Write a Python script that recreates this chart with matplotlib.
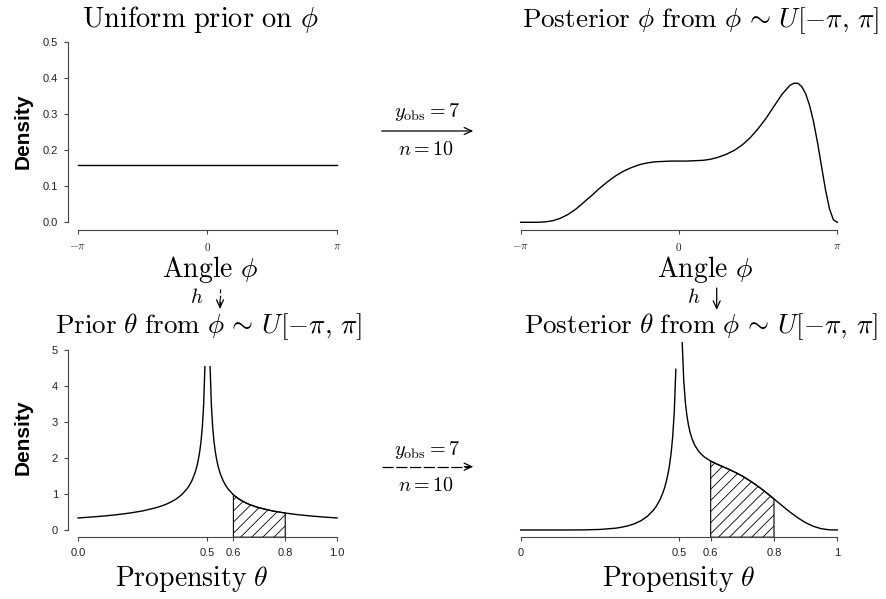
import numpy as np
import matplotlib.pyplot as plt
from matplotlib.lines import Line2D
from matplotlib.patches import FancyArrowPatch

plt.rcParams['mathtext.fontset'] = 'cm'
plt.rcParams['font.family'] = ['Liberation Sans', 'DejaVu Sans']
plt.rcParams['hatch.linewidth'] = 0.6

# ---- data ----
# uniform prior on phi
phi_uniform = [-3.142, 3.142]
dens_uniform = [0.159, 0.159]

# posterior on phi
phi_post = [-3.142, -2.985, -2.827, -2.670, -2.513, -2.356, -2.199, -2.042, -1.885, -1.728,
            -1.571, -1.414, -1.257, -1.100, -0.942, -0.785, -0.628, -0.471, -0.314, -0.157,
            0.000, 0.157, 0.314, 0.471, 0.628, 0.785, 0.942, 1.100, 1.257, 1.414,
            1.571, 1.728, 1.885, 2.042, 2.199, 2.278, 2.356, 2.435, 2.513, 2.592,
            2.670, 2.749, 2.827, 2.906, 2.985, 3.063, 3.142]
dens_phi_post = [0.000, 0.000, 0.000, 0.001, 0.004, 0.011, 0.022, 0.037, 0.056, 0.075,
                 0.095, 0.113, 0.129, 0.142, 0.152, 0.160, 0.165, 0.168, 0.169, 0.170,
                 0.170, 0.170, 0.171, 0.172, 0.175, 0.181, 0.189, 0.200, 0.215, 0.235,
                 0.260, 0.289, 0.322, 0.355, 0.380, 0.386, 0.386, 0.377, 0.357, 0.324,
                 0.279, 0.221, 0.156, 0.091, 0.038, 0.007, 0.000]

# prior on theta (undefined at 0.5)
theta_prior = [0.0, 0.05, 0.10, 0.15, 0.20, 0.25, 0.30, 0.32, 0.34, 0.36, 0.38, 0.40,
               0.42, 0.43, 0.44, 0.45, 0.455, 0.46, 0.465, 0.47, 0.475, 0.48, 0.485, 0.49,
               0.50,
               0.51, 0.515, 0.52, 0.525, 0.53, 0.535, 0.54, 0.545, 0.55, 0.56, 0.57, 0.58,
               0.60, 0.62, 0.64, 0.66, 0.68, 0.70, 0.75, 0.80, 0.85, 0.90, 0.95, 1.0]
dens_theta_prior = [0.333, 0.358, 0.387, 0.423, 0.469, 0.529, 0.614, 0.659, 0.712, 0.779, 0.863, 0.975,
                    1.131, 1.236, 1.370, 1.547, 1.660, 1.795, 1.963, 2.175, 2.456, 2.850, 3.452, 4.524,
                    np.nan,
                    4.524, 3.452, 2.850, 2.456, 2.175, 1.963, 1.795, 1.660, 1.547, 1.370, 1.236, 1.131,
                    0.975, 0.863, 0.779, 0.712, 0.659, 0.614, 0.529, 0.469, 0.423, 0.387, 0.358, 0.333]

# posterior on theta
theta_post = [0.0, 0.05, 0.10, 0.15, 0.20, 0.25, 0.30, 0.32, 0.34, 0.36, 0.38, 0.40,
              0.42, 0.43, 0.44, 0.45, 0.455, 0.46, 0.465, 0.47, 0.475, 0.48, 0.485, 0.49,
              0.50,
              0.51, 0.515, 0.52, 0.525, 0.53, 0.535, 0.54, 0.545, 0.55, 0.56, 0.57, 0.58,
              0.60, 0.62, 0.64, 0.66, 0.68, 0.70, 0.725, 0.75, 0.775, 0.80, 0.825, 0.85,
              0.875, 0.90, 0.925, 0.95, 0.975, 1.0]
dens_theta_post = [0.000, 0.000, 0.000, 0.000, 0.003, 0.015, 0.050, 0.078, 0.118, 0.175, 0.257, 0.377,
                   0.556, 0.681, 0.840, 1.052, 1.186, 1.348, 1.545, 1.794, 2.121, 2.573, 3.256, 4.452,
                   np.nan,
                   5.224, 4.139, 3.544, 3.165, 2.901, 2.707, 2.559, 2.442, 2.348, 2.205, 2.102, 2.023,
                   1.910, 1.824, 1.748, 1.671, 1.587, 1.493, 1.359, 1.207, 1.039, 0.860, 0.677, 0.500,
                   0.339, 0.202, 0.099, 0.034, 0.005, 0.000]

hatch_lo, hatch_hi = 0.6, 0.8
y_obs, n_trials = 7, 10

phi_ticks = [-np.pi, 0, np.pi]
phi_ticklabels = [r'$-\pi$', r'$0$', r'$\pi$']
theta_ticks = [0.0, 0.5, 0.6, 0.8, 1.0]

W, H = 886, 599
AX_COL = '#444444'

fig = plt.figure(figsize=(W / 100, H / 100), dpi=100)


def px_axes(left, top, right, bottom):
    return fig.add_axes([left / W, 1 - bottom / H, (right - left) / W, (bottom - top) / H])


def ftext(x, y, s, size, **kw):
    kw.setdefault('ha', 'center')
    kw.setdefault('va', 'baseline')
    fig.text(x / W, 1 - y / H, s, fontsize=size, **kw)


def style(ax, xlim, ylim, xticks, xlabels, xlabelsize, yticks=None, ylabels=None):
    px = 0.04 * (xlim[1] - xlim[0])
    py = 0.04 * (ylim[1] - ylim[0])
    ax.set_xlim(xlim[0] - px, xlim[1] + px)
    ax.set_ylim(ylim[0] - py, ylim[1] + py)
    ax.patch.set_visible(False)
    ax.spines['top'].set_visible(False)
    ax.spines['right'].set_visible(False)
    ax.spines['bottom'].set_bounds(*xlim)
    ax.spines['bottom'].set_color(AX_COL)
    ax.set_xticks(xticks)
    ax.set_xticklabels(xlabels, fontsize=xlabelsize)
    if yticks is None:
        ax.spines['left'].set_visible(False)
        ax.set_yticks([])
    else:
        ax.spines['left'].set_bounds(*ylim)
        ax.spines['left'].set_color(AX_COL)
        ax.set_yticks(yticks)
        ax.set_yticklabels(ylabels, fontsize=8)
    ax.tick_params(axis='x', length=3, width=0.8, color=AX_COL, pad=5, labelcolor='#222222')
    ax.tick_params(axis='y', length=3, width=0.8, color=AX_COL, pad=4, labelcolor='#222222')


def h_arrow(x0, x1, y, dashed=False):
    if dashed:
        fig.add_artist(Line2D([x0 / W, (x1 - 4) / W], [1 - y / H] * 2, transform=fig.transFigure,
                              color='black', lw=0.9, dashes=(9, 2)))
        x0 = x1 - 9
    fig.add_artist(FancyArrowPatch((x0 / W, 1 - y / H), (x1 / W, 1 - y / H), transform=fig.transFigure,
                                   arrowstyle='->,head_length=0.55,head_width=0.25',
                                   mutation_scale=10, lw=0.9, color='black', shrinkA=0, shrinkB=0))


def v_arrow(x, y0, y1, dashed=False):
    if dashed:
        fig.add_artist(Line2D([x / W] * 2, [1 - y0 / H, 1 - (y1 - 4) / H], transform=fig.transFigure,
                              color='black', lw=0.9, dashes=(3, 2)))
        y0 = y1 - 9
    fig.add_artist(FancyArrowPatch((x / W, 1 - y0 / H), (x / W, 1 - y1 / H), transform=fig.transFigure,
                                   arrowstyle='->,head_length=0.55,head_width=0.25',
                                   mutation_scale=10, lw=0.9, color='black', shrinkA=0, shrinkB=0))


# ---- top left: uniform prior on phi ----
ax1 = px_axes(67.6, 35.0, 347.4, 229.5)
ax1.plot(phi_uniform, dens_uniform, color='black', lw=1.0)
style(ax1, (-np.pi, np.pi), (0, 0.5), phi_ticks, phi_ticklabels, 8,
      [0, 0.1, 0.2, 0.3, 0.4, 0.5], ['0.0', '0.1', '0.2', '0.3', '0.4', '0.5'])

# ---- top right: posterior on phi ----
ax2 = px_axes(508.0, 35.0, 850.0, 229.5)
ax2.plot(phi_post, dens_phi_post, color='black', lw=1.0)
style(ax2, (-np.pi, np.pi), (0, 0.5), phi_ticks, phi_ticklabels, 8)

# ---- bottom left: prior on theta ----
ax3 = px_axes(67.6, 342.3, 347.4, 537.2)
th = np.array(theta_prior)
dp = np.array(dens_theta_prior)
ax3.plot(th, dp, color='black', lw=1.0)
style(ax3, (0, 1), (0, 5), theta_ticks, ['0.0', '0.5', '0.6', '0.8', '1.0'], 8,
      [0, 1, 2, 3, 4, 5], ['0', '1', '2', '3', '4', '5'])
sel = (th >= hatch_lo) & (th <= hatch_hi)
ax3.fill_between(th[sel], ax3.get_ylim()[0], dp[sel], facecolor='none', edgecolor='black',
                 hatch='///', linewidth=0.8)

# ---- bottom right: posterior on theta ----
ax4 = px_axes(508.0, 342.3, 850.0, 537.2)
tq = np.array(theta_post)
dq = np.array(dens_theta_post)
ax4.plot(tq, dq, color='black', lw=1.0)
style(ax4, (0, 1), (0, 5), theta_ticks, ['0', '0.5', '0.6', '0.8', '1'], 8)
sel = (tq >= hatch_lo) & (tq <= hatch_hi)
ax4.fill_between(tq[sel], ax4.get_ylim()[0], dq[sel], facecolor='none', edgecolor='black',
                 hatch='///', linewidth=0.8)

# ---- titles and labels ----
ftext(200.5, 26.7, r'$\mathrm{Uniform\ prior\ on}\ \phi$', 20.5)
ftext(700.5, 26.7, r'$\mathrm{Posterior}\ \phi\ \mathrm{from}\ \phi\,\sim\,U[-\pi,\,\pi]$', 19.5)
ftext(209, 333, r'$\mathrm{Prior}\ \theta\ \mathrm{from}\ \phi\,\sim\,U[-\pi,\,\pi]$', 19.5)
ftext(700.5, 333, r'$\mathrm{Posterior}\ \theta\ \mathrm{from}\ \phi\,\sim\,U[-\pi,\,\pi]$', 19.5)

ftext(210, 277, r'$\mathrm{Angle}\ \phi$', 20)
ftext(705, 277, r'$\mathrm{Angle}\ \phi$', 20)
ftext(192, 586, r'$\mathrm{Propensity}\ \theta$', 20)
ftext(679, 586, r'$\mathrm{Propensity}\ \theta$', 20)

ftext(23.5, 131.5, 'Density', 15, weight='bold', rotation=90, va='center')
ftext(23.5, 437.5, 'Density', 15, weight='bold', rotation=90, va='center')

# transformation h between the rows
ftext(197, 303.3, r'$h$', 15)
v_arrow(220, 289, 309, dashed=True)
ftext(694, 303.3, r'$h$', 15)
v_arrow(716.7, 288, 310)

# observed data between the columns
ftext(427.5, 117.3, r'$y_{\mathrm{obs}} = %d$' % y_obs, 14.5)
h_arrow(381.7, 473.3, 131)
ftext(426, 155, r'$n = %d$' % n_trials, 14.5)

ftext(427.5, 455, r'$y_{\mathrm{obs}} = %d$' % y_obs, 14.5)
h_arrow(381.7, 473.3, 466.7, dashed=True)
ftext(426, 491, r'$n = %d$' % n_trials, 14.5)

fig.savefig('out.png', dpi=100)
